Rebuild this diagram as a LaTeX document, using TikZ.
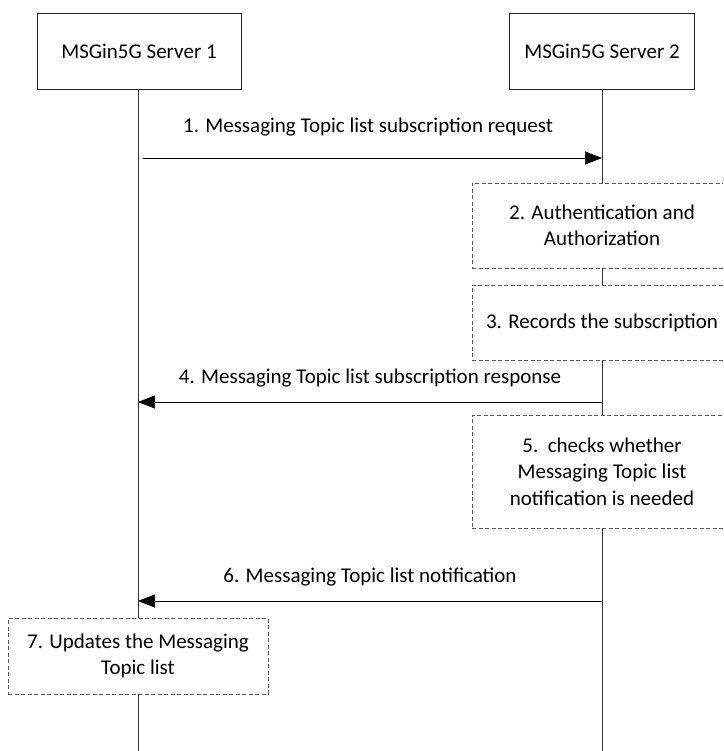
\documentclass[tikz,border=0pt]{standalone}
\usepackage{fontspec}
\setmainfont{Carlito}
\usetikzlibrary{arrows.meta}
\begin{document}
\begin{tikzpicture}[x=1pt,y=-1pt,
  ent/.style={draw=black!85,line width=0.6pt,minimum width=204pt,minimum height=76pt,inner sep=0pt,font=\fontsize{21}{26}\selectfont},
  act/.style={draw=black!65,dashed,dash pattern=on 4pt off 2.5pt,line width=0.6pt,minimum width=260pt,inner sep=0pt,align=center,font=\fontsize{21}{26.5}\selectfont},
  life/.style={draw=black!80,line width=0.7pt},
  msg/.style={draw=black,line width=0.7pt,-{Triangle[length=17pt,width=13pt]}},
  lbl/.style={font=\fontsize{21}{26}\selectfont}]
\useasboundingbox (0,0) rectangle (723,751);
\clip (0,0) rectangle (723,751);
\node[ent] (s1) at (139,51) {MSGin5G Server 1};
\node[ent,minimum width=185pt] (s2) at (602,51) {MSGin5G Server 2};
\node[act,minimum height=85pt] (a2) at (602,225.5) {2. Authentication and\\Authorization};
\node[act,minimum height=75pt] (a3) at (602,322.5) {3. Records the subscription};
\node[act,minimum height=113pt] (a5) at (602,471.5) {5.\ \ checks whether\\Messaging Topic list\\notification is needed};
\node[act,minimum height=76pt] (a7) at (138,656) {7. Updates the Messaging\\Topic list};
\coordinate (e1) at (138,751);
\coordinate (e2) at (602,751);
\draw[life] (s1.south -| a7.north) -- (a7.north);
\draw[life] (a7.south) -- (e1);
\draw[life] (s2.south) -- (a2.north);
\draw[life] (a2.south) -- (a3.north);
\draw[life] (a3.south) -- (a5.north);
\draw[life] (a5.south) -- (e2);
\coordinate (m1s) at (143,158);
\coordinate (m1e) at (602,158);
\coordinate (m4s) at (602,402);
\coordinate (m4e) at (138,402);
\coordinate (m6s) at (602,601);
\coordinate (m6e) at (138,601);
\draw[msg] (m1s) -- (m1e);
\draw[msg] (m4s) -- (m4e);
\draw[msg] (m6s) -- (m6e);
\node[lbl] (l1) at (368,127) {1. Messaging Topic list subscription request};
\node[lbl] (l4) at (370,378) {4. Messaging Topic list subscription response};
\node[lbl] (l6) at (370,577) {6. Messaging Topic list notification};
\end{tikzpicture}
\end{document}
